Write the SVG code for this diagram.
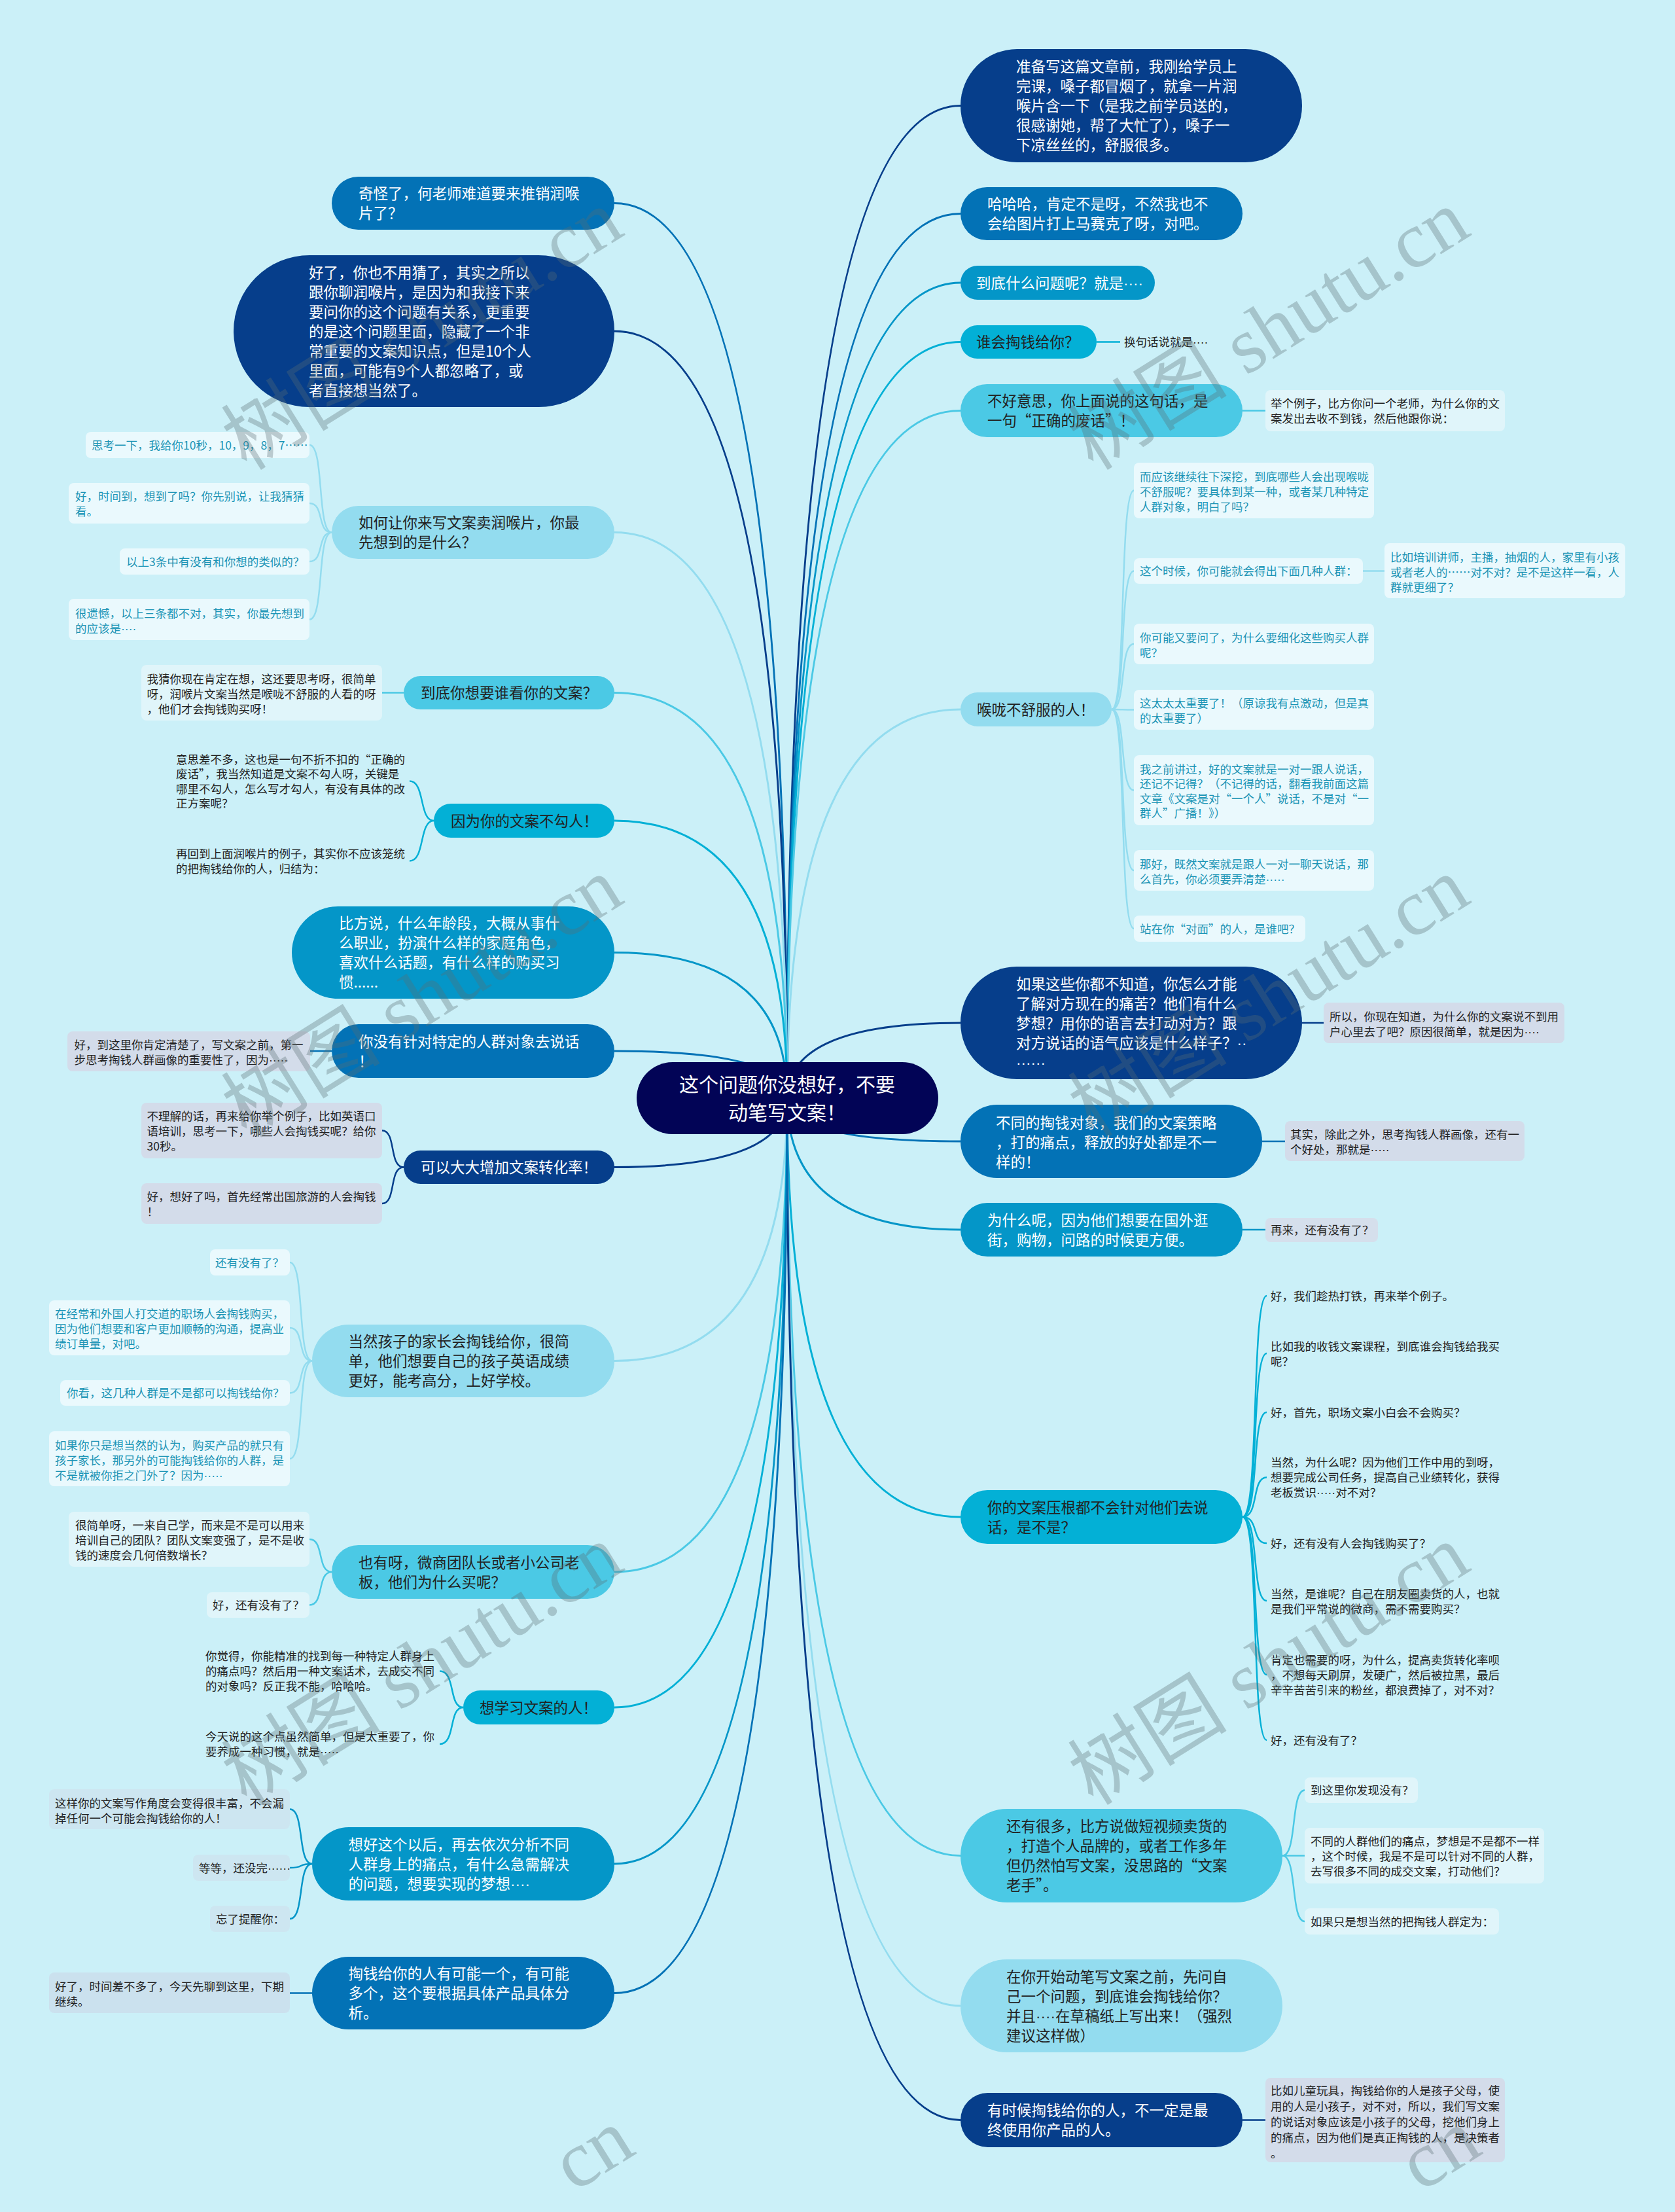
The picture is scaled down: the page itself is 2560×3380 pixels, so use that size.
<svg xmlns="http://www.w3.org/2000/svg" width="2560" height="3380" viewBox="0 0 2560 3380">
<style>
text{font-family:"Noto Sans CJK SC","Noto Sans",sans-serif}
.p{font-family:"Liberation Sans",sans-serif}
.L{font-size:22.5px}
.S{font-size:17.5px}
.C{font-size:30px}
.w{fill:#fff}
.d{fill:#222}
.tl{fill:#1b94b5}
.c0{fill:#020456}
.c1{fill:#063e8b}
.c2{fill:#0372b6}
.c3{fill:#0496c8}
.c4{fill:#03b0d6}
.c5{fill:#4bc9e5}
.c6{fill:#93dcef}
.b0{fill:#eaf9fd}
.b1{fill:#e0f5fa}
.bl{fill:#d3dcea}
.bb{fill:#cde6f1}
#connectors path{fill:none;stroke-width:3}
#connectors .sub path{stroke-width:2.5}
.k1{stroke:#063e8b}
.k2{stroke:#0372b6}
.k3{stroke:#0496c8}
.k4{stroke:#03b0d6}
.k5{stroke:#4bc9e5}
.k6{stroke:#93dcef}
.wm{font-family:"Liberation Serif","Noto Sans CJK SC",serif;font-size:122px;fill:#5a6e73;opacity:.33}
</style>
<rect width="2560" height="3380" fill="#cbf0f8"/>
<g id="connectors">
<g class="main">
<path class="k1" d="M1203,1678 Q1203,161.5 1468,161.5"/>
<path class="k2" d="M1203,1678 Q1203,326.5 1468,326.5"/>
<path class="k3" d="M1203,1678 Q1203,432 1468,432"/>
<path class="k4" d="M1203,1678 Q1203,522.5 1468,522.5"/>
<path class="k5" d="M1203,1678 Q1203,627.5 1468,627.5"/>
<path class="k6" d="M1203,1678 Q1203,1084 1468,1084"/>
<path class="k1" d="M1203,1678 Q1203,1563 1468,1563"/>
<path class="k2" d="M1203,1678 Q1203,1744 1468,1744"/>
<path class="k3" d="M1203,1678 Q1203,1879 1468,1879"/>
<path class="k4" d="M1203,1678 Q1203,2318 1468,2318"/>
<path class="k5" d="M1203,1678 Q1203,2835.5 1468,2835.5"/>
<path class="k6" d="M1203,1678 Q1203,3065 1468,3065"/>
<path class="k1" d="M1203,1678 Q1203,3239.5 1468,3239.5"/>
<path class="k2" d="M1203,1678 Q1203,310.5 939,310.5"/>
<path class="k1" d="M1203,1678 Q1203,506 939,506"/>
<path class="k6" d="M1203,1678 Q1203,813.5 939,813.5"/>
<path class="k5" d="M1203,1678 Q1203,1058.5 939,1058.5"/>
<path class="k4" d="M1203,1678 Q1203,1254 939,1254"/>
<path class="k3" d="M1203,1678 Q1203,1455.5 939,1455.5"/>
<path class="k2" d="M1203,1678 Q1203,1606 939,1606"/>
<path class="k1" d="M1203,1678 Q1203,1783.5 939,1783.5"/>
<path class="k6" d="M1203,1678 Q1203,2079.5 939,2079.5"/>
<path class="k5" d="M1203,1678 Q1203,2402 939,2402"/>
<path class="k4" d="M1203,1678 Q1203,2609 939,2609"/>
<path class="k3" d="M1203,1678 Q1203,2848 939,2848"/>
<path class="k2" d="M1203,1678 Q1203,3045.5 939,3045.5"/>
</g>
<g class="sub">
<path class="k4" d="M1676,522.5 L1712,522.5"/>
<path class="k5" d="M1899,627.5 L1934,627.5"/>
<path class="k6" d="M1699,1084 C1722,1084 1710,749.5 1733,749.5"/>
<path class="k6" d="M1699,1084 C1722,1084 1710,872.5 1733,872.5"/>
<path class="k6" d="M1699,1084 C1722,1084 1710,984 1733,984"/>
<path class="k6" d="M1699,1084 C1722,1084 1710,1084.5 1733,1084.5"/>
<path class="k6" d="M1699,1084 C1722,1084 1710,1207.5 1733,1207.5"/>
<path class="k6" d="M1699,1084 C1722,1084 1710,1330 1733,1330"/>
<path class="k6" d="M1699,1084 C1722,1084 1710,1419 1733,1419"/>
<path class="k6" d="M2083,872.5 L2116,872.5"/>
<path class="k1" d="M1990,1563 L2023,1563"/>
<path class="k2" d="M1929,1744 L1964,1744"/>
<path class="k3" d="M1899,1879 L1934,1879"/>
<path class="k4" d="M1899,2318 C1925,2318 1912,1980 1936,1980"/>
<path class="k4" d="M1899,2318 C1925,2318 1912,2068 1936,2068"/>
<path class="k4" d="M1899,2318 C1925,2318 1912,2158 1936,2158"/>
<path class="k4" d="M1899,2318 C1925,2318 1912,2257.5 1936,2257.5"/>
<path class="k4" d="M1899,2318 C1925,2318 1912,2358 1936,2358"/>
<path class="k4" d="M1899,2318 C1925,2318 1912,2446 1936,2446"/>
<path class="k4" d="M1899,2318 C1925,2318 1912,2559 1936,2559"/>
<path class="k4" d="M1899,2318 C1925,2318 1912,2659 1936,2659"/>
<path class="k5" d="M1960,2835.5 C1983,2835.5 1972,2735.5 1994,2735.5"/>
<path class="k5" d="M1960,2835.5 L1994,2835.5"/>
<path class="k5" d="M1960,2835.5 C1983,2835.5 1972,2936 1994,2936"/>
<path class="k1" d="M1899,3239.5 L1934,3239.5"/>
<path class="k6" d="M507,813.5 C484,813.5 496,680 473,680"/>
<path class="k6" d="M507,813.5 C484,813.5 496,769 473,769"/>
<path class="k6" d="M507,813.5 C484,813.5 496,858 473,858"/>
<path class="k6" d="M507,813.5 C484,813.5 496,946.5 473,946.5"/>
<path class="k5" d="M617,1058.5 L584,1058.5"/>
<path class="k4" d="M663,1254 C640,1254 650,1193.5 626,1193.5"/>
<path class="k4" d="M663,1254 C640,1254 650,1315.5 626,1315.5"/>
<path class="k2" d="M507,1606 L474,1606"/>
<path class="k1" d="M617,1783.5 C594,1783.5 606,1727.5 584,1727.5"/>
<path class="k1" d="M617,1783.5 C594,1783.5 606,1839 584,1839"/>
<path class="k6" d="M477,2079.5 C454,2079.5 466,1929 443,1929"/>
<path class="k6" d="M477,2079.5 C454,2079.5 466,2029 443,2029"/>
<path class="k6" d="M477,2079.5 C454,2079.5 466,2128.5 443,2128.5"/>
<path class="k6" d="M477,2079.5 C454,2079.5 466,2229 443,2229"/>
<path class="k5" d="M507,2402 C484,2402 496,2352 473,2352"/>
<path class="k5" d="M507,2402 C484,2402 496,2452.5 473,2452.5"/>
<path class="k4" d="M708,2609 C685,2609 697,2553.5 672,2553.5"/>
<path class="k4" d="M708,2609 C685,2609 697,2665 672,2665"/>
<path class="k3" d="M477,2848 C454,2848 466,2764.5 443,2764.5"/>
<path class="k3" d="M477,2848 C454,2848 466,2854 443,2854"/>
<path class="k3" d="M477,2848 C454,2848 466,2932 443,2932"/>
<path class="k2" d="M477,3045.5 L443,3045.5"/>
</g>
</g>

<g id="center">
<rect class="c0" x="973" y="1623" width="461" height="110" rx="55"/>
<text class="C w" text-anchor="middle"><tspan x="1203" y="1668">这个问题你没想好，不要</tspan><tspan x="1203" y="1711">动笔写文案！</tspan></text>
</g>

<g id="R1">
<rect class="c1" x="1468" y="75" width="522" height="173" rx="86.5"/>
<text class="L w"><tspan x="1553" y="110">准备写这篇文章前，我刚给学员上</tspan><tspan x="1553" y="140">完课，嗓子都冒烟了，就拿一片润</tspan><tspan x="1553" y="170">喉片含一下（是我之前学员送的，</tspan><tspan x="1553" y="200">很感谢她，帮了大忙了），嗓子一</tspan><tspan x="1553" y="230">下凉丝丝的，舒服很多。</tspan></text>
</g>
<g id="R2">
<rect class="c2" x="1468" y="286" width="431" height="81" rx="40.5"/>
<text class="L w"><tspan x="1509" y="320">哈哈哈，肯定不是呀，不然我也不</tspan><tspan x="1509" y="350">会给图片打上马赛克了呀，对吧。</tspan></text>
</g>
<g id="R3">
<rect class="c3" x="1468" y="406" width="297" height="52" rx="26"/>
<text class="L w" x="1492" y="440.5">到底什么问题呢？就是<tspan class="p">····</tspan></text>
</g>
<g id="R4">
<rect class="c4" x="1468" y="497" width="208" height="51" rx="25.5"/>
<text class="L d" x="1492" y="531">谁会掏钱给你？</text>
</g>
<g id="R4-1">
<text class="S d" x="1718" y="529">换句话说就是<tspan class="p">····</tspan></text>
</g>
<g id="R5">
<rect class="c5" x="1468" y="587" width="431" height="81" rx="40.5"/>
<text class="L d"><tspan x="1509" y="621">不好意思，你上面说的这句话，是</tspan><tspan x="1509" y="651">一句“正确的废话”！</tspan></text>
</g>
<g id="R5-1">
<rect class="b1" x="1934" y="596" width="366" height="63" rx="8"/>
<text class="S d"><tspan x="1942" y="623">举个例子，比方你问一个老师，为什么你的文</tspan><tspan x="1942" y="646">案发出去收不到钱，然后他跟你说：</tspan></text>
</g>
<g id="R6">
<rect class="c6" x="1468" y="1058" width="231" height="52" rx="26"/>
<text class="L d" x="1493" y="1092.5">喉咙不舒服的人！</text>
</g>
<g id="R6-1">
<rect class="b0" x="1733" y="707" width="367" height="85" rx="8"/>
<text class="S tl"><tspan x="1742" y="734.5">而应该继续往下深挖，到底哪些人会出现喉咙</tspan><tspan x="1742" y="757.5">不舒服呢？要具体到某一种，或者某几种特定</tspan><tspan x="1742" y="780.5">人群对象，明白了吗？</tspan></text>
</g>
<g id="R6-2">
<rect class="b0" x="1733" y="853" width="350" height="39" rx="8"/>
<text class="S tl" x="1742" y="879">这个时候，你可能就会得出下面几种人群：</text>
</g>
<g id="R6-2-1">
<rect class="b0" x="2116" y="830" width="368" height="84" rx="8"/>
<text class="S tl"><tspan x="2125" y="858">比如培训讲师，主播，抽烟的人，家里有小孩</tspan><tspan x="2125" y="881">或者老人的……对不对？是不是这样一看，人</tspan><tspan x="2125" y="904">群就更细了？</tspan></text>
</g>
<g id="R6-3">
<rect class="b0" x="1733" y="953" width="367" height="62" rx="8"/>
<text class="S tl"><tspan x="1742" y="980.5">你可能又要问了，为什么要细化这些购买人群</tspan><tspan x="1742" y="1003.5">呢？</tspan></text>
</g>
<g id="R6-4">
<rect class="b0" x="1733" y="1054" width="367" height="61" rx="8"/>
<text class="S tl"><tspan x="1742" y="1081">这太太太重要了！（原谅我有点激动，但是真</tspan><tspan x="1742" y="1104">的太重要了）</tspan></text>
</g>
<g id="R6-5">
<rect class="b0" x="1733" y="1154" width="367" height="107" rx="8"/>
<text class="S tl"><tspan x="1742" y="1181.5">我之前讲过，好的文案就是一对一跟人说话，</tspan><tspan x="1742" y="1204">还记不记得？（不记得的话，翻看我前面这篇</tspan><tspan x="1742" y="1226.5">文章《文案是对“一个人”说话，不是对“一</tspan><tspan x="1742" y="1249">群人”广播！》）</tspan></text>
</g>
<g id="R6-6">
<rect class="b0" x="1733" y="1299" width="367" height="62" rx="8"/>
<text class="S tl"><tspan x="1742" y="1326.5">那好，既然文案就是跟人一对一聊天说话，那</tspan><tspan x="1742" y="1349.5">么首先，你必须要弄清楚<tspan class="p">·····</tspan></tspan></text>
</g>
<g id="R6-7">
<rect class="b0" x="1733" y="1399" width="262" height="40" rx="8"/>
<text class="S tl" x="1742" y="1425.5">站在你“对面”的人，是谁吧？</text>
</g>
<g id="R7">
<rect class="c1" x="1468" y="1477" width="522" height="172" rx="86"/>
<text class="L w"><tspan x="1553" y="1511.5">如果这些你都不知道，你怎么才能</tspan><tspan x="1553" y="1541.5">了解对方现在的痛苦？他们有什么</tspan><tspan x="1553" y="1571.5">梦想？用你的语言去打动对方？跟</tspan><tspan x="1553" y="1601.5">对方说话的语气应该是什么样子？<tspan class="p">··</tspan></tspan><tspan x="1553" y="1631.5" class="p">······</tspan></text>
</g>
<g id="R7-1">
<rect class="bl" x="2023" y="1532" width="368" height="62" rx="8"/>
<text class="S d"><tspan x="2032" y="1559.5">所以，你现在知道，为什么你的文案说不到用</tspan><tspan x="2032" y="1582.5">户心里去了吧？原因很简单，就是因为<tspan class="p">····</tspan></tspan></text>
</g>
<g id="R8">
<rect class="c2" x="1468" y="1688" width="461" height="112" rx="56"/>
<text class="L w"><tspan x="1522" y="1723.5">不同的掏钱对象，我们的文案策略</tspan><tspan x="1522" y="1753.5">，打的痛点，释放的好处都是不一</tspan><tspan x="1522" y="1783.5">样的！</tspan></text>
</g>
<g id="R8-1">
<rect class="bl" x="1964" y="1713" width="366" height="61" rx="8"/>
<text class="S d"><tspan x="1972" y="1739.5">其实，除此之外，思考掏钱人群画像，还有一</tspan><tspan x="1972" y="1762.5">个好处，那就是<tspan class="p">·····</tspan></tspan></text>
</g>
<g id="R9">
<rect class="c3" x="1468" y="1838" width="431" height="82" rx="41"/>
<text class="L w"><tspan x="1509" y="1872.5">为什么呢，因为他们想要在国外逛</tspan><tspan x="1509" y="1902.5">街，购物，问路的时候更方便。</tspan></text>
</g>
<g id="R9-1">
<rect x="1934" y="1861" width="172" height="37" rx="8" fill="#d5dfec"/>
<text class="S d" x="1942" y="1886">再来，还有没有了？</text>
</g>
<g id="R10">
<rect class="c4" x="1468" y="2277" width="431" height="82" rx="41"/>
<text class="L d"><tspan x="1509" y="2311.5">你的文案压根都不会针对他们去说</tspan><tspan x="1509" y="2341.5">话，是不是？</tspan></text>
</g>
<g id="R10-1"><text class="S d" x="1942" y="1986.5">好，我们趁热打铁，再来举个例子。</text></g>
<g id="R10-2"><text class="S d"><tspan x="1942" y="2063.5">比如我的收钱文案课程，到底谁会掏钱给我买</tspan><tspan x="1942" y="2086.5">呢？</tspan></text></g>
<g id="R10-3"><text class="S d" x="1942" y="2164.5">好，首先，职场文案小白会不会购买？</text></g>
<g id="R10-4"><text class="S d"><tspan x="1942" y="2241">当然，为什么呢？因为他们工作中用的到呀，</tspan><tspan x="1942" y="2264">想要完成公司任务，提高自己业绩转化，获得</tspan><tspan x="1942" y="2287">老板赏识<tspan class="p">·····</tspan>对不对？</tspan></text></g>
<g id="R10-5"><text class="S d" x="1942" y="2364.5">好，还有没有人会掏钱购买了？</text></g>
<g id="R10-6"><text class="S d"><tspan x="1942" y="2441.5">当然，是谁呢？自己在朋友圈卖货的人，也就</tspan><tspan x="1942" y="2464.5">是我们平常说的微商，需不需要购买？</tspan></text></g>
<g id="R10-7"><text class="S d"><tspan x="1942" y="2542.5">肯定也需要的呀，为什么，提高卖货转化率呗</tspan><tspan x="1942" y="2565.5">，不想每天刷屏，发硬广，然后被拉黑，最后</tspan><tspan x="1942" y="2588.5">辛辛苦苦引来的粉丝，都浪费掉了，对不对？</tspan></text></g>
<g id="R10-8"><text class="S d" x="1942" y="2665.5">好，还有没有了？</text></g>
<g id="R11">
<rect class="c5" x="1468" y="2764" width="492" height="143" rx="71.5"/>
<text class="L d"><tspan x="1538" y="2799">还有很多，比方说做短视频卖货的</tspan><tspan x="1538" y="2829">，打造个人品牌的，或者工作多年</tspan><tspan x="1538" y="2859">但仍然怕写文案，没思路的“文案</tspan><tspan x="1538" y="2889">老手”。</tspan></text>
</g>
<g id="R11-1">
<rect class="b1" x="1994" y="2716" width="173" height="39" rx="8"/>
<text class="S d" x="2003" y="2742">到这里你发现没有？</text>
</g>
<g id="R11-2">
<rect class="b1" x="1994" y="2793" width="366" height="85" rx="8"/>
<text class="S d"><tspan x="2003" y="2819.5">不同的人群他们的痛点，梦想是不是都不一样</tspan><tspan x="2003" y="2842.5">，这个时候，我是不是可以针对不同的人群，</tspan><tspan x="2003" y="2865.5">去写很多不同的成交文案，打动他们？</tspan></text>
</g>
<g id="R11-3">
<rect class="b1" x="1994" y="2916" width="297" height="40" rx="8"/>
<text class="S d" x="2003" y="2942.5">如果只是想当然的把掏钱人群定为：</text>
</g>
<g id="R12">
<rect class="c6" x="1468" y="2994" width="492" height="142" rx="71"/>
<text class="L d"><tspan x="1538" y="3028.5">在你开始动笔写文案之前，先问自</tspan><tspan x="1538" y="3058.5">己一个问题，到底谁会掏钱给你？</tspan><tspan x="1538" y="3088.5">并且<tspan class="p">····</tspan>在草稿纸上写出来！（强烈</tspan><tspan x="1538" y="3118.5">建议这样做）</tspan></text>
</g>
<g id="R13">
<rect class="c1" x="1468" y="3198" width="431" height="83" rx="41.5"/>
<text class="L w"><tspan x="1509" y="3233">有时候掏钱给你的人，不一定是最</tspan><tspan x="1509" y="3263">终使用你产品的人。</tspan></text>
</g>
<g id="R13-1">
<rect class="bl" x="1934" y="3175" width="366" height="129" rx="8"/>
<text class="S d"><tspan x="1942" y="3200.5">比如儿童玩具，掏钱给你的人是孩子父母，使</tspan><tspan x="1942" y="3224.5">用的人是小孩子，对不对，所以，我们写文案</tspan><tspan x="1942" y="3248.5">的说话对象应该是小孩子的父母，挖他们身上</tspan><tspan x="1942" y="3272.5">的痛点，因为他们是真正掏钱的人，是决策者</tspan><tspan x="1942" y="3296.5">。</tspan></text>
</g>

<g id="L1">
<rect class="c2" x="507" y="270" width="432" height="81" rx="40.5"/>
<text class="L w"><tspan x="548" y="304">奇怪了，何老师难道要来推销润喉</tspan><tspan x="548" y="334">片了？</tspan></text>
</g>
<g id="L2">
<rect class="c1" x="357" y="390" width="582" height="232" rx="116"/>
<text class="L w"><tspan x="472" y="424.5">好了，你也不用猜了，其实之所以</tspan><tspan x="472" y="454.5">跟你聊润喉片，是因为和我接下来</tspan><tspan x="472" y="484.5">要问你的这个问题有关系，更重要</tspan><tspan x="472" y="514.5">的是这个问题里面，隐藏了一个非</tspan><tspan x="472" y="544.5">常重要的文案知识点，但是10个人</tspan><tspan x="472" y="574.5">里面，可能有9个人都忽略了，或</tspan><tspan x="472" y="604.5">者直接想当然了。</tspan></text>
</g>
<g id="L3">
<rect class="c6" x="507" y="773" width="432" height="81" rx="40.5"/>
<text class="L d"><tspan x="548" y="807">如何让你来写文案卖润喉片，你最</tspan><tspan x="548" y="837">先想到的是什么？</tspan></text>
</g>
<g id="L3-1">
<rect class="b0" x="131" y="660" width="342" height="40" rx="8"/>
<text class="S tl" x="140" y="686.5">思考一下，我给你10秒，10，9，8，7……</text>
</g>
<g id="L3-2">
<rect class="b0" x="105" y="738" width="368" height="62" rx="8"/>
<text class="S tl"><tspan x="115" y="764.5">好，时间到，想到了吗？你先别说，让我猜猜</tspan><tspan x="115" y="787.5">看。</tspan></text>
</g>
<g id="L3-3">
<rect class="b0" x="183" y="838" width="290" height="40" rx="8"/>
<text class="S tl" x="193" y="864.5">以上3条中有没有和你想的类似的？</text>
</g>
<g id="L3-4">
<rect class="b0" x="105" y="915" width="368" height="63" rx="8"/>
<text class="S tl"><tspan x="115" y="943.5">很遗憾，以上三条都不对，其实，你最先想到</tspan><tspan x="115" y="966.5">的应该是<tspan class="p">····</tspan></tspan></text>
</g>
<g id="L4">
<rect class="c5" x="617" y="1033" width="322" height="51" rx="25.5"/>
<text class="L d" x="643" y="1067">到底你想要谁看你的文案？</text>
</g>
<g id="L4-1">
<rect class="b1" x="216" y="1016" width="368" height="85" rx="8"/>
<text class="S d"><tspan x="224.5" y="1043.5">我猜你现在肯定在想，这还要思考呀，很简单</tspan><tspan x="224.5" y="1066.5">呀，润喉片文案当然是喉咙不舒服的人看的呀</tspan><tspan x="224.5" y="1089.5">，他们才会掏钱购买呀！</tspan></text>
</g>
<g id="L5">
<rect class="c4" x="663" y="1228" width="276" height="52" rx="26"/>
<text class="L d" x="689" y="1262.5">因为你的文案不勾人！</text>
</g>
<g id="L5-1"><text class="S d"><tspan x="269" y="1166.5">意思差不多，这也是一句不折不扣的“正确的</tspan><tspan x="269" y="1189">废话”，我当然知道是文案不勾人呀，关键是</tspan><tspan x="269" y="1211.5">哪里不勾人，怎么写才勾人，有没有具体的改</tspan><tspan x="269" y="1234">正方案呢？</tspan></text></g>
<g id="L5-2"><text class="S d"><tspan x="269" y="1310.5">再回到上面润喉片的例子，其实你不应该笼统</tspan><tspan x="269" y="1333.5">的把掏钱给你的人，归结为：</tspan></text></g>
<g id="L6">
<rect class="c3" x="446" y="1385" width="493" height="141" rx="70.5"/>
<text class="L w"><tspan x="518" y="1419">比方说，什么年龄段，大概从事什</tspan><tspan x="518" y="1449">么职业，扮演什么样的家庭角色，</tspan><tspan x="518" y="1479">喜欢什么话题，有什么样的购买习</tspan><tspan x="518" y="1509">惯......</tspan></text>
</g>
<g id="L7">
<rect class="c2" x="507" y="1565" width="432" height="82" rx="41"/>
<text class="L w"><tspan x="548" y="1599.5">你没有针对特定的人群对象去说话</tspan><tspan x="548" y="1629.5">！</tspan></text>
</g>
<g id="L7-1">
<rect class="bl" x="103" y="1576" width="371" height="61" rx="8"/>
<text class="S d"><tspan x="113.5" y="1602.5">好，到这里你肯定清楚了，写文案之前，第一</tspan><tspan x="113.5" y="1625.5">步思考掏钱人群画像的重要性了，因为<tspan class="p">·····</tspan></tspan></text>
</g>
<g id="L8">
<rect class="c1" x="617" y="1758" width="322" height="51" rx="25.5"/>
<text class="L w" x="643" y="1792">可以大大增加文案转化率！</text>
</g>
<g id="L8-1">
<rect class="bl" x="216" y="1685" width="368" height="85" rx="8"/>
<text class="S d"><tspan x="224.5" y="1711.5">不理解的话，再来给你举个例子，比如英语口</tspan><tspan x="224.5" y="1734.5">语培训，思考一下，哪些人会掏钱买呢？给你</tspan><tspan x="224.5" y="1757.5">30秒。</tspan></text>
</g>
<g id="L8-2">
<rect class="bl" x="216" y="1808" width="368" height="62" rx="8"/>
<text class="S d"><tspan x="224.5" y="1834.5">好，想好了吗，首先经常出国旅游的人会掏钱</tspan><tspan x="224.5" y="1857.5">！</tspan></text>
</g>
<g id="L9">
<rect class="c6" x="477" y="2024" width="462" height="111" rx="55.5"/>
<text class="L d"><tspan x="532.5" y="2058">当然孩子的家长会掏钱给你，很简</tspan><tspan x="532.5" y="2088">单，他们想要自己的孩子英语成绩</tspan><tspan x="532.5" y="2118">更好，能考高分，上好学校。</tspan></text>
</g>
<g id="L9-1">
<rect class="b0" x="321" y="1909" width="122" height="40" rx="8"/>
<text class="S tl" x="329" y="1935.5">还有没有了？</text>
</g>
<g id="L9-2">
<rect class="b0" x="75" y="1987" width="368" height="84" rx="8"/>
<text class="S tl"><tspan x="84" y="2013.5">在经常和外国人打交道的职场人会掏钱购买，</tspan><tspan x="84" y="2036.5">因为他们想要和客户更加顺畅的沟通，提高业</tspan><tspan x="84" y="2059.5">绩订单量，对吧。</tspan></text>
</g>
<g id="L9-3">
<rect class="b0" x="92" y="2109" width="351" height="39" rx="8"/>
<text class="S tl" x="102" y="2135">你看，这几种人群是不是都可以掏钱给你？</text>
</g>
<g id="L9-4">
<rect class="b0" x="75" y="2187" width="368" height="84" rx="8"/>
<text class="S tl"><tspan x="84" y="2214.5">如果你只是想当然的认为，购买产品的就只有</tspan><tspan x="84" y="2237.5">孩子家长，那另外的可能掏钱给你的人群，是</tspan><tspan x="84" y="2260.5">不是就被你拒之门外了？因为<tspan class="p">·····</tspan></tspan></text>
</g>
<g id="L10">
<rect class="c5" x="507" y="2361" width="432" height="82" rx="41"/>
<text class="L d"><tspan x="548" y="2395.5">也有呀，微商团队长或者小公司老</tspan><tspan x="548" y="2425.5">板，他们为什么买呢？</tspan></text>
</g>
<g id="L10-1">
<rect class="b1" x="105" y="2310" width="368" height="84" rx="8"/>
<text class="S d"><tspan x="115" y="2336.5">很简单呀，一来自己学，而来是不是可以用来</tspan><tspan x="115" y="2359.5">培训自己的团队？团队文案变强了，是不是收</tspan><tspan x="115" y="2382.5">钱的速度会几何倍数增长？</tspan></text>
</g>
<g id="L10-2">
<rect class="b1" x="316" y="2433" width="157" height="39" rx="8"/>
<text class="S d" x="325" y="2459">好，还有没有了？</text>
</g>
<g id="L11">
<rect class="c4" x="708" y="2583" width="231" height="52" rx="26"/>
<text class="L d" x="733" y="2617.5">想学习文案的人！</text>
</g>
<g id="L11-1"><text class="S d"><tspan x="314" y="2537">你觉得，你能精准的找到每一种特定人群身上</tspan><tspan x="314" y="2560">的痛点吗？然后用一种文案话术，去成交不同</tspan><tspan x="314" y="2583">的对象吗？反正我不能，哈哈哈。</tspan></text></g>
<g id="L11-2"><text class="S d"><tspan x="314" y="2660">今天说的这个点虽然简单，但是太重要了，你</tspan><tspan x="314" y="2683">要养成一种习惯，就是<tspan class="p">·····</tspan></tspan></text></g>
<g id="L12">
<rect class="c3" x="477" y="2792" width="462" height="112" rx="56"/>
<text class="L w"><tspan x="532.5" y="2826.5">想好这个以后，再去依次分析不同</tspan><tspan x="532.5" y="2856.5">人群身上的痛点，有什么急需解决</tspan><tspan x="532.5" y="2886.5">的问题，想要实现的梦想<tspan class="p">····</tspan></tspan></text>
</g>
<g id="L12-1">
<rect class="bb" x="75" y="2734" width="368" height="61" rx="8"/>
<text class="S d"><tspan x="84" y="2761.5">这样你的文案写作角度会变得很丰富，不会漏</tspan><tspan x="84" y="2784.5">掉任何一个可能会掏钱给你的人！</tspan></text>
</g>
<g id="L12-2">
<rect class="bb" x="295" y="2834" width="148" height="40" rx="8"/>
<text class="S d" x="304" y="2860.5">等等，还没完<tspan class="p">······</tspan></text>
</g>
<g id="L12-3">
<rect class="bb" x="321" y="2912" width="122" height="40" rx="8"/>
<text class="S d" x="330" y="2938.5">忘了提醒你：</text>
</g>
<g id="L13">
<rect class="c2" x="477" y="2990" width="462" height="111" rx="55.5"/>
<text class="L w"><tspan x="532.5" y="3024">掏钱给你的人有可能一个，有可能</tspan><tspan x="532.5" y="3054">多个，这个要根据具体产品具体分</tspan><tspan x="532.5" y="3084">析。</tspan></text>
</g>
<g id="L13-1">
<rect x="75" y="3014" width="368" height="62" rx="8" fill="#cbe1ee"/>
<text class="S d"><tspan x="84" y="3041.5">好了，时间差不多了，今天先聊到这里，下期</tspan><tspan x="84" y="3064.5">继续。</tspan></text>
</g>

<g id="watermark">
<text class="wm" text-anchor="middle" x="646" y="545" transform="rotate(-32 646 505)">树图 shutu.cn</text>
<text class="wm" text-anchor="middle" x="1940" y="545" transform="rotate(-32 1940 505)">树图 shutu.cn</text>
<text class="wm" text-anchor="middle" x="646" y="1565" transform="rotate(-32 646 1525)">树图 shutu.cn</text>
<text class="wm" text-anchor="middle" x="1940" y="1565" transform="rotate(-32 1940 1525)">树图 shutu.cn</text>
<text class="wm" text-anchor="middle" x="646" y="2585" transform="rotate(-32 646 2545)">树图 shutu.cn</text>
<text class="wm" text-anchor="middle" x="1940" y="2585" transform="rotate(-32 1940 2545)">树图 shutu.cn</text>
<text class="wm" text-anchor="middle" x="905" y="3326" transform="rotate(-32 905 3286)">cn</text>
<text class="wm" text-anchor="middle" x="2199" y="3326" transform="rotate(-32 2199 3286)">cn</text>
</g>
</svg>
